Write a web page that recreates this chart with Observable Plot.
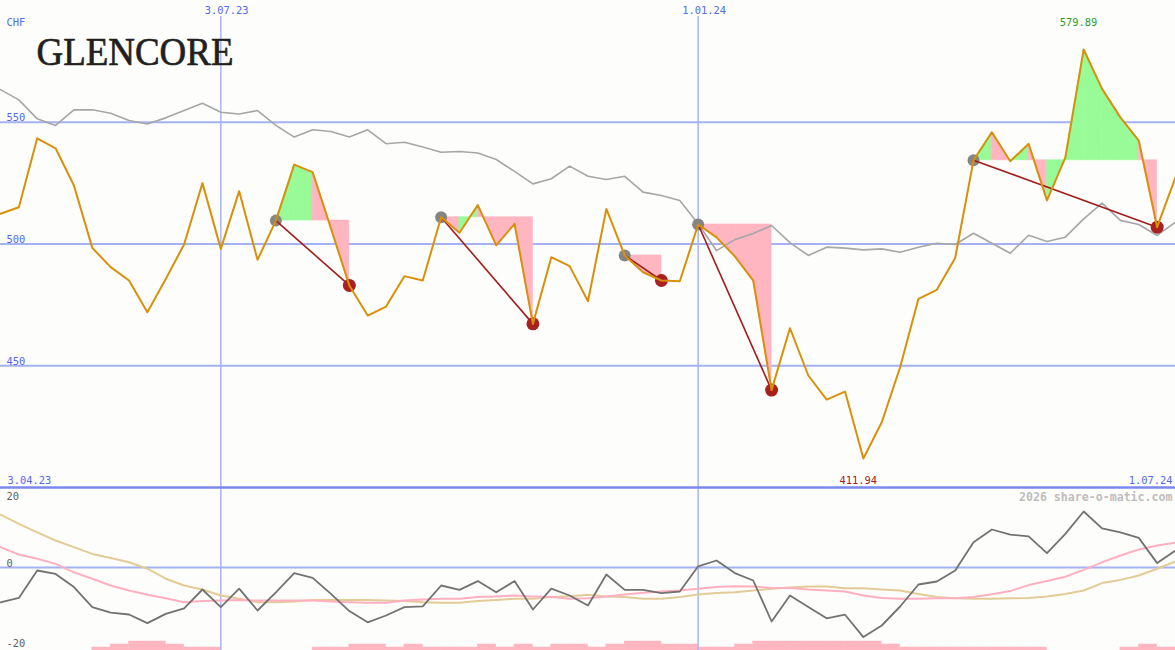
<!DOCTYPE html>
<html>
<head>
<meta charset="utf-8">
<script src="https://cdn.jsdelivr.net/npm/d3@7"></script>
<script src="https://cdn.jsdelivr.net/npm/@observablehq/plot@0.6"></script>
<style>
  html, body { margin: 0; padding: 0; background: #fdfefb; }
  #chart svg { display: block; }
</style>
</head>
<body>
<div id="chart"></div>
<script>
// ---------- data (weekly, index 0 = first week) ----------
const dateLabels = ["3.04.23", "3.07.23", "1.01.24", "1.07.24"];
const dateIndex  = [0, 12, 38, 64];
const currency = "CHF";
const company = "GLENCORE";
const credit = "2026 share-o-matic.com";

const price = [512.4, 515.1, 543.4, 539.3, 524.0, 498.4, 490.5, 485.0, 472.0, 485.6,
  499.8, 525.0, 498.0, 521.7, 493.5, 509.6, 532.6, 529.5, 506.4, 483.0,
  470.6, 474.3, 486.8, 485.0, 511.0, 504.6, 516.0, 499.4, 508.3, 467.2,
  494.6, 490.9, 476.5, 514.4, 495.3, 488.4, 485.0, 484.7, 508.0, 502.7,
  494.9, 485.0, 440.0, 465.4, 446.0, 436.1, 439.4, 411.94, 426.8, 449.4,
  477.5, 481.2, 494.3, 534.4, 545.9, 534.0, 541.1, 517.9, 535.5, 579.89,
  563.7, 552.0, 542.5, 506.9, 527.4];

const benchmark = [563.4, 559.2, 551.4, 548.7, 555.1, 555.1, 553.7, 550.7, 549.3, 551.8,
  554.8, 557.8, 554.1, 553.4, 554.8, 548.7, 543.9, 546.9, 546.2, 543.9,
  546.9, 541.2, 541.8, 539.8, 537.7, 538.0, 537.4, 534.7, 529.8, 524.7,
  526.8, 532.0, 527.8, 526.5, 527.8, 521.3, 519.9, 517.9, 508.3, 497.3,
  501.8, 504.3, 507.6, 500.6, 495.3, 498.7, 498.3, 497.6, 498.0, 496.6,
  498.7, 500.3, 499.8, 504.4, 500.3, 496.2, 503.6, 501.0, 502.8, 510.3,
  516.8, 509.7, 508.0, 503.5, 509.0];

const peakIndex   = [15, 24, 34, 38, 53];
const troughIndex = [19, 29, 36, 42, 63];

const topTicks = [450, 500, 550];
const bottomTicks = [-20, 0, 20];

const oscillator = [-8.7, -7.6, -0.75, -1.6, -4.9, -9.9, -11.3, -11.75, -13.9, -11.6,
  -10.2, -5.5, -9.9, -5.3, -10.75, -6.2, -1.4, -2.6, -6.6, -10.9,
  -13.7, -12.0, -9.9, -9.7, -4.5, -5.6, -3.4, -6.2, -3.4, -10.5,
  -5.3, -7.0, -9.5, -1.75, -5.6, -5.6, -6.4, -6.0, 0.3, 1.75,
  -1.4, -3.25, -13.5, -7.0, -9.9, -12.7, -11.8, -17.4, -14.5, -9.75,
  -4.25, -3.5, -0.75, 6.3, 9.5, 8.2, 7.8, 3.6, 8.4, 14.0,
  9.8, 8.8, 7.4, 1.1, 4.25];

const signalPink = [5.1, 3.25, 2.2, 0.9, -1.2, -2.8, -4.5, -5.75, -6.8, -7.7,
  -8.7, -8.4, -8.25, -8.1, -8.25, -8.25, -8.25, -8.25, -8.5, -8.7,
  -8.8, -8.8, -8.25, -8.0, -7.8, -7.8, -7.4, -7.25, -7.0, -7.25,
  -7.4, -7.8, -7.7, -7.25, -6.75, -6.3, -6.0, -5.75, -5.3, -4.9,
  -4.7, -4.75, -5.1, -5.1, -5.5, -5.75, -6.0, -7.0, -7.6, -7.8,
  -7.8, -7.7, -7.7, -7.4, -6.7, -5.9, -4.4, -3.4, -2.3, -0.6,
  1.3, 3.0, 4.5, 5.5, 6.2];

const signalTan = [13.2, 10.9, 8.8, 6.75, 5.1, 3.4, 2.4, 1.3, -0.3, -2.8,
  -4.5, -5.5, -7.0, -7.8, -8.7, -8.7, -8.5, -8.1, -8.1, -8.1,
  -8.1, -8.25, -8.4, -8.7, -8.8, -8.8, -8.4, -8.1, -7.8, -7.8,
  -7.4, -7.2, -6.8, -7.25, -7.4, -7.8, -7.8, -7.4, -6.75, -6.4,
  -6.2, -5.75, -5.3, -5.0, -4.75, -4.75, -5.2, -5.2, -5.5, -5.75,
  -6.6, -7.4, -7.7, -7.8, -7.8, -7.7, -7.6, -7.25, -6.6, -5.75,
  -3.9, -3.1, -2.0, -0.3, 1.5];

const volumeLevel = [0,0,0,0,0,1,2,3,3,2,1,1,0,0,0,0,0,1,1,2,2,1,2,1,1,1,2,1,2,1,2,2,1,2,3,3,2,2,1,1,2,3,3,3,3,3,3,3,2,1,1,1,1,1,1,1,1,0,0,0,0,1,2,1];

// ---------- derived tables ----------
const weeks = price.map((p, i) => ({i, price: p, bench: benchmark[i], osc: oscillator[i], pink: signalPink[i], tan: signalTan[i]}));
const fills = [];
peakIndex.forEach((p, k) => {
  const base = price[p];
  for (let i = p; i < troughIndex[k]; i++) {
    const col = price[i + 1] >= base ? "#98fb98" : "#ffb6c1";
    fills.push({x: i, y1: base, y2: price[i], id: i, col});
    fills.push({x: i + 1, y1: base, y2: price[i + 1], id: i, col});
  }
});
const links = peakIndex.map((p, k) => ({x1: p, y1: price[p], x2: troughIndex[k], y2: price[troughIndex[k]]}));
const peaks = peakIndex.map(i => ({i, v: price[i]}));
const troughs = troughIndex.map(i => ({i, v: price[i]}));
const iMax = d3.maxIndex(price), iMin = d3.minIndex(price);
const vols = volumeLevel.map((l, i) => ({i, l})).filter(d => d.l > 0);

const W = 1175;
const mono = "DejaVu Sans Mono";
const blue = "#5468f0";
const grid = "#a4b2f3";
const fs = 10.4;
const xScale = {domain: [0, 64], range: [0, W], axis: null};

const topChart = Plot.plot({
  width: W, height: 489, margin: 0,
  style: {background: "#fdfefb", overflow: "visible"},
  x: xScale,
  y: {domain: [400, 600], range: [487, 0], axis: null},
  marks: [
    Plot.ruleY(topTicks, {stroke: grid, strokeWidth: 2}),
    Plot.ruleX(dateIndex.slice(1, 3), {stroke: "#a8b4f4", strokeWidth: 1.5, insetTop: 16}),
    Plot.areaY(fills, {x: "x", y1: "y1", y2: "y2", z: "id", fill: "col", stroke: "col", strokeWidth: 0.6, curve: "linear"}),
    Plot.line(weeks, {x: "i", y: "bench", stroke: "#a6a6a6", strokeWidth: 1.6}),
    Plot.dot(peaks, {x: "i", y: "v", r: 6, fill: "#858585"}),
    Plot.link(links, {x1: "x1", y1: "y1", x2: "x2", y2: "y2", stroke: "#a31c1c", strokeWidth: 1.6}),
    Plot.dot(troughs, {x: "i", y: "v", r: 6.5, fill: "#a82020"}),
    Plot.line(weeks, {x: "i", y: "price", stroke: "#d8900c", strokeWidth: 2}),
    Plot.ruleY([400], {stroke: "#7b88ee", strokeWidth: 2.5}),
    Plot.text(topTicks, {y: d => d, text: d => String(d), frameAnchor: "left", dx: 6, dy: -1, textAnchor: "start", lineAnchor: "bottom", fill: blue, fontFamily: mono, fontSize: fs}),
    Plot.text([currency], {text: d => d, frameAnchor: "top-left", dx: 6, dy: 25, textAnchor: "start", lineAnchor: "bottom", fill: blue, fontFamily: mono, fontSize: fs}),
    Plot.text(dateIndex.slice(1, 3), {x: d => d, text: (d, k) => dateLabels[k + 1], frameAnchor: "top", dx: -16, dy: 13, textAnchor: "start", lineAnchor: "bottom", fill: blue, fontFamily: mono, fontSize: fs}),
    Plot.text([dateLabels[0]], {text: d => d, frameAnchor: "bottom-left", dx: 7, dy: -6, textAnchor: "start", lineAnchor: "bottom", fill: blue, fontFamily: mono, fontSize: fs}),
    Plot.text([dateLabels[3]], {text: d => d, frameAnchor: "bottom-right", dx: -3, dy: -6, textAnchor: "end", lineAnchor: "bottom", fill: blue, fontFamily: mono, fontSize: fs}),
    Plot.text([iMax], {x: d => d, text: d => price[d].toFixed(2), frameAnchor: "top", dx: -24, dy: 25, textAnchor: "start", lineAnchor: "bottom", fill: "#2a9a2a", fontFamily: mono, fontSize: fs}),
    Plot.text([iMin], {x: d => d, text: d => price[d].toFixed(2), frameAnchor: "bottom", dx: -24, dy: -6, textAnchor: "start", lineAnchor: "bottom", fill: "#a31c1c", fontFamily: mono, fontSize: fs}),
    Plot.text([company], {text: d => d, frameAnchor: "top-left", dx: 36, dy: 64, textAnchor: "start", lineAnchor: "bottom", fill: "#231f20", stroke: "#231f20", strokeWidth: 0.7, fontFamily: "Liberation Serif", fontSize: 41})
  ]
});

const bottomChart = Plot.plot({
  width: W, height: 161, margin: 0,
  style: {background: "#fdfefb", overflow: "visible"},
  x: xScale,
  y: {domain: [-20, 20], range: [158, -2], axis: null},
  marks: [
    Plot.rectY(vols, {x1: "i", x2: d => d.i + 1, y1: -21, y2: d => -20.75 + d.l * 0.75, fill: "#ffb6c1", stroke: "#ffb6c1", strokeWidth: 0.5, inset: 0}),
    Plot.ruleY([0], {stroke: grid, strokeWidth: 2}),
    Plot.ruleX(dateIndex.slice(1, 3), {stroke: "#a8b4f4", strokeWidth: 1.5}),
    Plot.line(weeks, {x: "i", y: "tan", stroke: "#e3cb98", strokeWidth: 2}),
    Plot.line(weeks, {x: "i", y: "pink", stroke: "#ffb0c0", strokeWidth: 2}),
    Plot.line(weeks, {x: "i", y: "osc", stroke: "#727272", strokeWidth: 1.8}),
    Plot.text(bottomTicks.slice(0, 2), {y: d => d, text: d => String(d), frameAnchor: "left", dx: 6, dy: -1, textAnchor: "start", lineAnchor: "bottom", fill: "#606060", fontFamily: mono, fontSize: fs}),
    Plot.text(bottomTicks.slice(2), {text: d => String(d), frameAnchor: "top-left", dx: 6, dy: 10, textAnchor: "start", lineAnchor: "bottom", fill: "#606060", fontFamily: mono, fontSize: fs}),
    Plot.text([credit], {text: d => d, frameAnchor: "top-right", dx: -3, dy: 11, textAnchor: "end", lineAnchor: "bottom", fill: "#bdbdbd", fontFamily: mono, fontSize: 11.6, fontWeight: "bold"})
  ]
});

d3.select(topChart).selectAll("text").filter(function () { return this.textContent === company; })
  .attr("textLength", 197).attr("lengthAdjust", "spacingAndGlyphs");

const host = document.getElementById("chart");
host.appendChild(topChart);
host.appendChild(bottomChart);
</script>
</body>
</html>
